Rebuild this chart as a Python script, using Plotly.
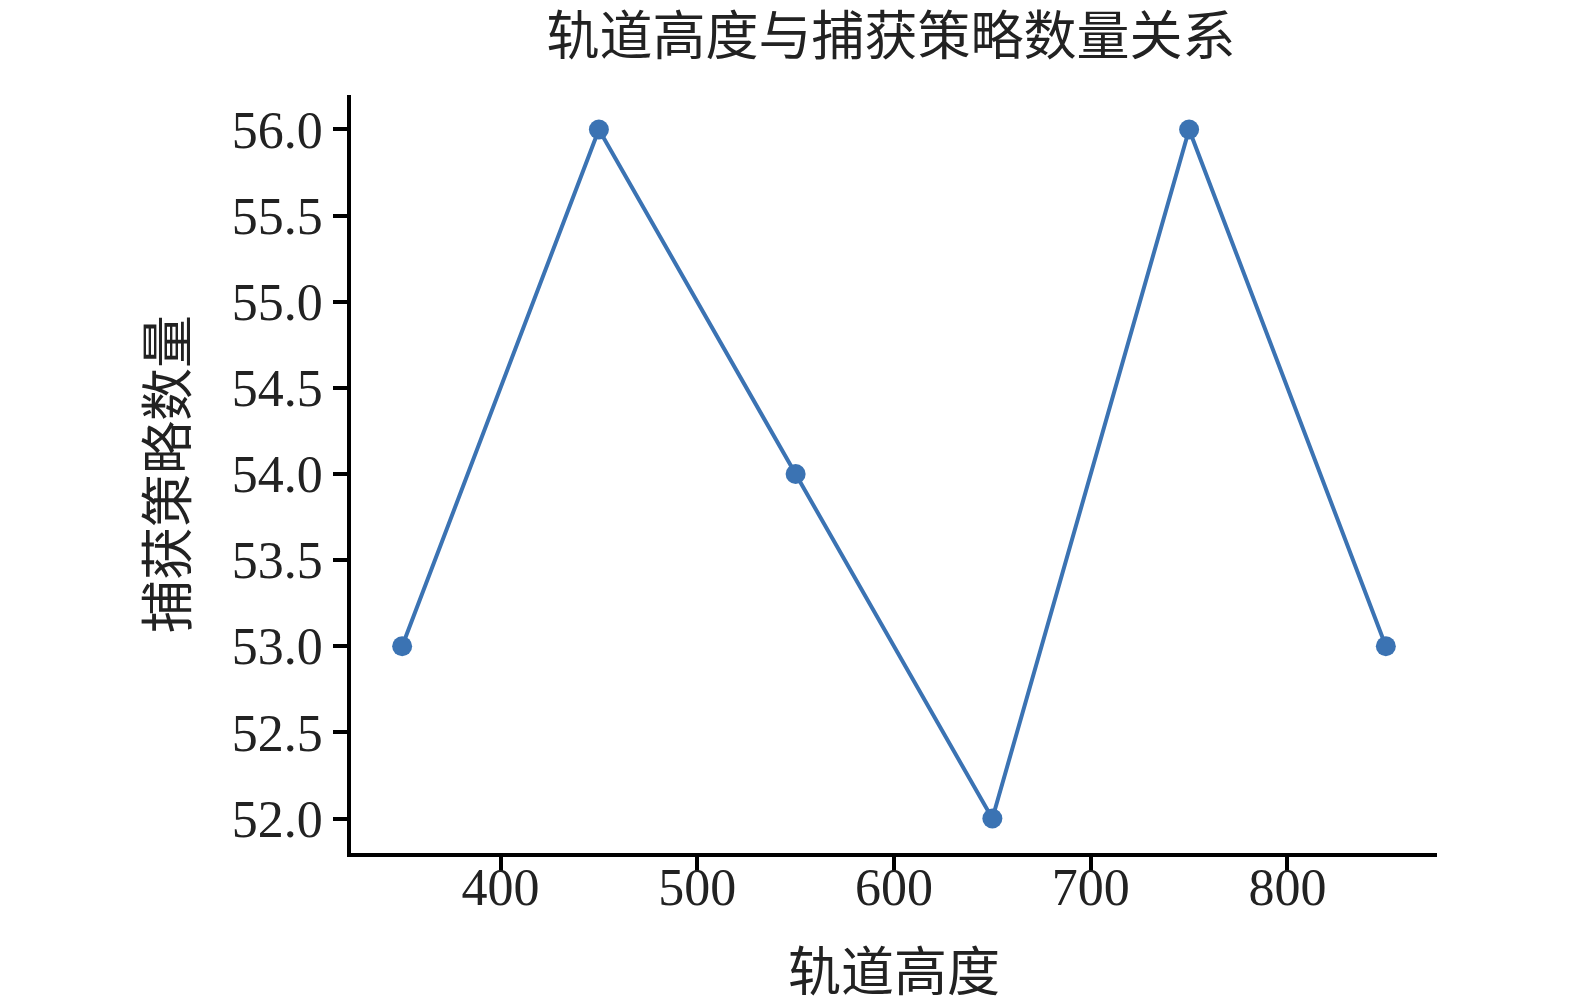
import plotly.graph_objects as go

altitude = [350, 450, 550, 650, 750, 850]
strategy_count = [53, 56, 54, 52, 56, 53]

x_ticks = [400, 500, 600, 700, 800]
y_ticks = [52.0, 52.5, 53.0, 53.5, 54.0, 54.5, 55.0, 55.5, 56.0]

FONT = "Liberation Serif, Times New Roman, Noto Sans CJK SC, serif"
BLUE = "#3b73b3"
TEXT = "#222222"

fig = go.Figure(
    go.Scatter(
        x=altitude,
        y=strategy_count,
        mode="lines+markers",
        line=dict(color=BLUE, width=4),
        marker=dict(color=BLUE, size=20),
        showlegend=False,
    )
)

axis_common = dict(
    showline=True,
    linecolor="black",
    linewidth=3.5,
    ticks="outside",
    ticklen=14,
    tickwidth=3.5,
    tickcolor="black",
    showgrid=False,
    zeroline=False,
    automargin=False,
    tickfont=dict(family=FONT, size=52, color=TEXT),
)

fig.update_xaxes(
    range=[324, 876],
    tickvals=x_ticks,
    ticklabelstandoff=-28,
    title=dict(text="轨道高度", font=dict(family=FONT, size=53, color=TEXT), standoff=40),
    **axis_common,
)
fig.update_yaxes(
    range=[51.8, 56.2],
    tickvals=y_ticks,
    tickformat=".1f",
    title=dict(text="捕获策略数量", font=dict(family=FONT, size=53, color=TEXT), standoff=28),
    **axis_common,
)

fig.update_layout(
    width=1575,
    height=1006,
    title=dict(
        text="轨道高度与捕获策略数量关系",
        font=dict(family=FONT, size=53, color=TEXT),
        x=0.5606,
        xanchor="center",
        y=0.972,
        yanchor="middle",
    ),
    plot_bgcolor="white",
    paper_bgcolor="white",
    margin=dict(l=343, r=146, t=87, b=161),
)

fig.write_html("out.html")
